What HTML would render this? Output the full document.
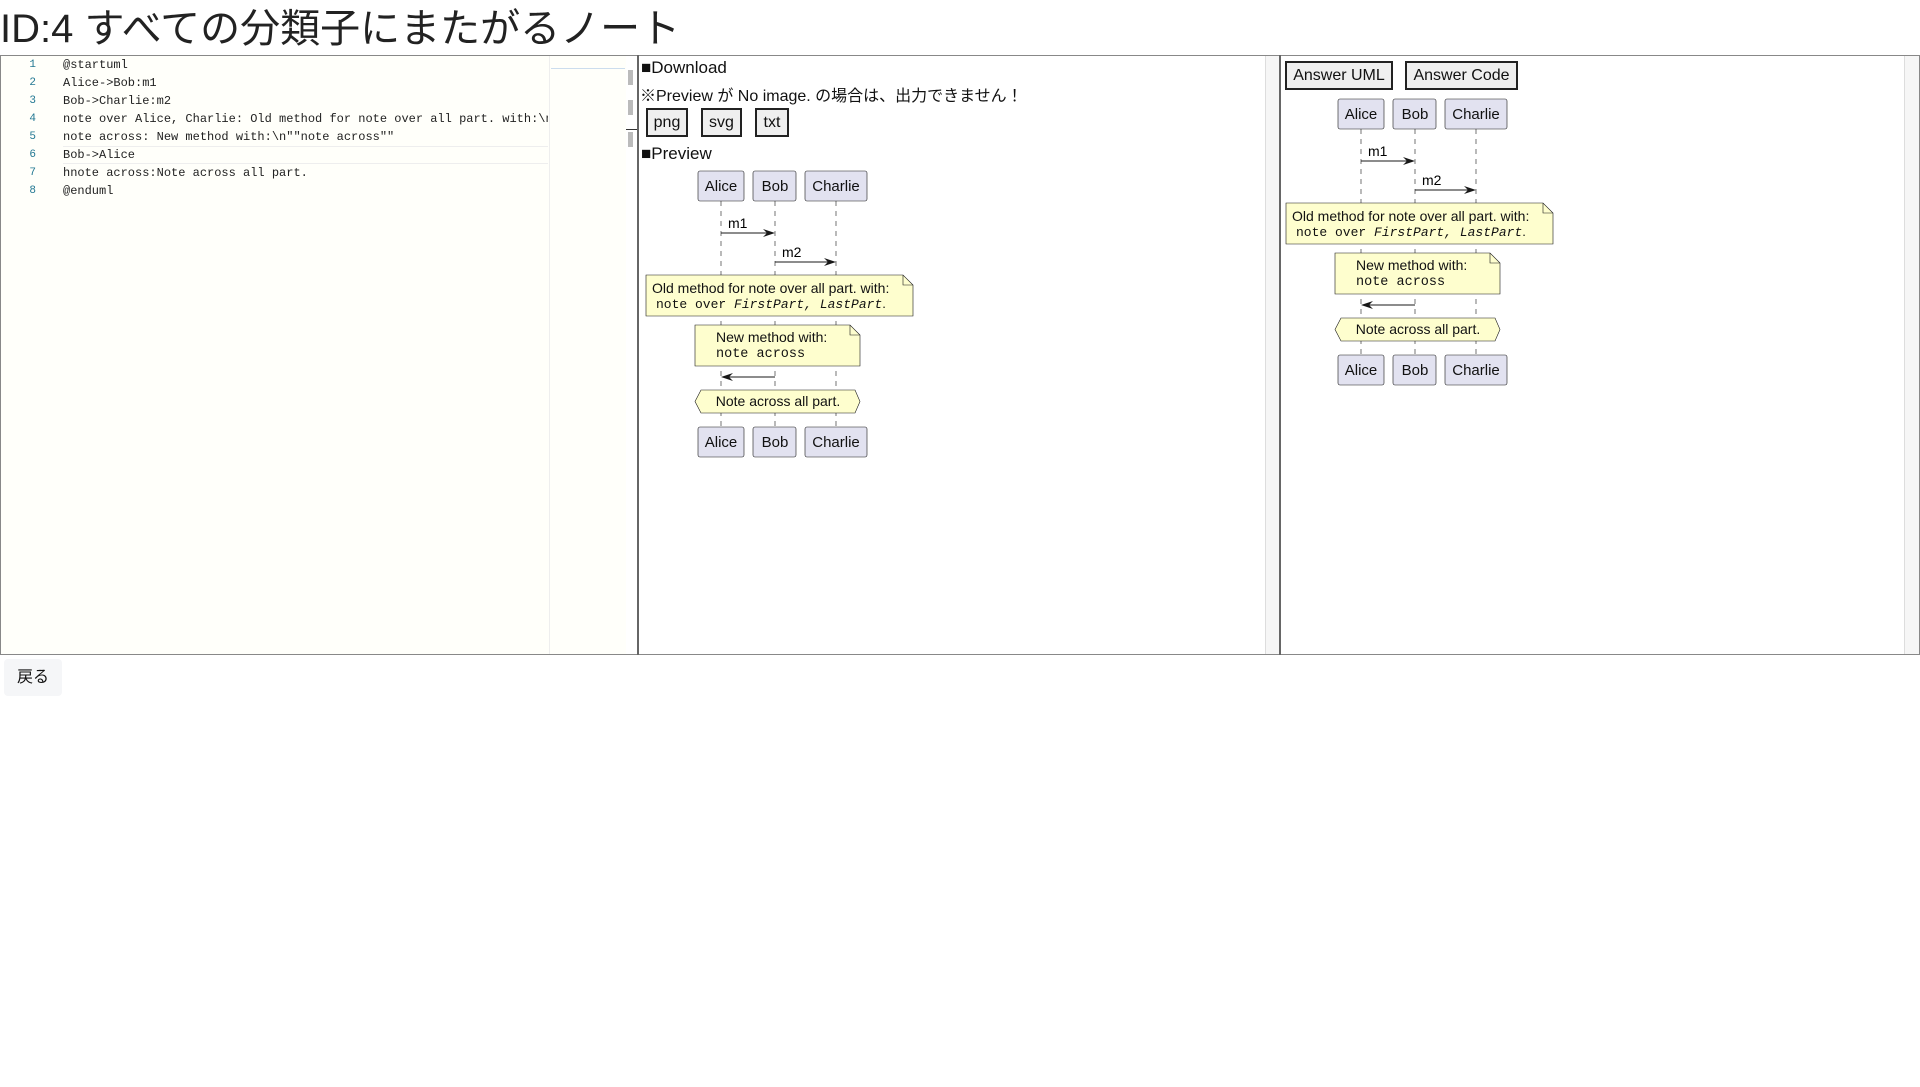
<!DOCTYPE html>
<html><head><meta charset="utf-8"><style>
*{margin:0;padding:0;box-sizing:border-box}
body{width:1920px;height:1087px;background:#fff;position:relative;overflow:hidden;font-family:"Liberation Sans","Noto Sans CJK JP",sans-serif;color:#111}
.a{position:absolute}
h1{position:absolute;left:0;top:-4px;font-size:40px;font-weight:normal;white-space:nowrap;color:#222}
.code{font-family:"Liberation Mono","DejaVu Sans Mono",monospace;font-size:12px;line-height:18px;white-space:pre;color:#222;overflow:hidden}
.ln{font-family:"Liberation Mono",monospace;font-size:11px;line-height:18px;color:#237893;text-align:right;width:36px}
.btn{position:absolute;border:2px solid #222;background:#efefef;font-size:16px;text-align:center;line-height:25px;white-space:nowrap}
.t{font-size:16px;white-space:nowrap}
</style></head><body>
<h1>ID:4 すべての分類子にまたがるノート</h1>
<div class="a" style="left:0;top:55px;width:1920px;height:600px;border:1px solid #888"></div>
<div class="a" style="left:1px;top:56px;width:548px;height:598px;background:#fffffa"></div>
<div class="a" style="left:549px;top:56px;width:77px;height:598px;background:#fffffa;border-left:1px solid #eee"></div>
<div class="a" style="left:626px;top:56px;width:13px;height:598px;background:#fff"></div>
<div class="a" style="left:628px;top:70px;width:5px;height:15px;background:#bbb"></div>
<div class="a" style="left:628px;top:100px;width:5px;height:15px;background:#bbb"></div>
<div class="a" style="left:628px;top:132px;width:5px;height:15px;background:#bbb"></div>
<div class="a" style="left:626px;top:129px;width:13px;height:1px;background:#333"></div>
<div class="a" style="left:551px;top:68px;width:74px;height:1px;background:#cde"></div>
<div class="a" style="left:637px;top:55px;width:2px;height:600px;background:#666"></div>
<div class="a" style="left:1265px;top:56px;width:14px;height:598px;background:#f6f6f6;border-left:1px solid #ddd"></div>
<div class="a" style="left:1279px;top:55px;width:2px;height:600px;background:#666"></div>
<div class="a" style="left:1904px;top:56px;width:15px;height:598px;background:#f6f6f6;border-left:1px solid #ddd"></div>
<div class="a" style="left:63px;top:146px;width:485px;height:18px;border-top:1px solid #eee;border-bottom:1px solid #eee"></div>
<div class="a ln" style="left:0;top:56px">1<br>2<br>3<br>4<br>5<br>6<br>7<br>8</div>
<div class="a code" style="left:63px;top:56px;width:485px">@startuml
Alice->Bob:m1
Bob->Charlie:m2
note over Alice, Charlie: Old method for note over all part. with:\n
note across: New method with:\n""note across""
Bob->Alice
hnote across:Note across all part.
@enduml</div>
<div class="a t" style="left:641px;top:58px;font-size:17px">■Download</div>
<div class="a t" style="left:640px;top:82px">※Preview が No image. の場合は、出力できません！</div>
<div class="btn" style="left:646px;top:108px;width:42px;height:29px">png</div>
<div class="btn" style="left:701px;top:108px;width:41px;height:29px">svg</div>
<div class="btn" style="left:755px;top:108px;width:34px;height:29px">txt</div>
<div class="a t" style="left:641px;top:144px;font-size:17px">■Preview</div>
<div class="btn" style="left:1285px;top:61px;width:108px;height:29px">Answer UML</div>
<div class="btn" style="left:1405px;top:61px;width:113px;height:29px">Answer Code</div>
<div class="a" style="left:4px;top:659px;width:58px;height:37px;background:#f5f6f8;border-radius:4px;font-size:16px;line-height:37px;text-align:center">戻る</div>

<svg class="a" style="left:0;top:0" width="1920" height="1087">
<defs>
<g id="d" font-family="Liberation Sans,sans-serif" font-size="15">
<g stroke="#181818" stroke-width="0.6" stroke-dasharray="5,5">
<line x1="721" y1="201" x2="721" y2="427"/><line x1="775" y1="201" x2="775" y2="427"/><line x1="836" y1="201" x2="836" y2="427"/>
</g>
<g fill="#e2e2f0" stroke="#181818" stroke-width="0.6">
<rect x="698" y="171" width="46" height="30" rx="2"/><rect x="753" y="171" width="43" height="30" rx="2"/><rect x="805" y="171" width="62" height="30" rx="2"/>
<rect x="698" y="427" width="46" height="30" rx="2"/><rect x="753" y="427" width="43" height="30" rx="2"/><rect x="805" y="427" width="62" height="30" rx="2"/>
</g>
<g fill="#111" text-anchor="middle">
<text x="721" y="191">Alice</text><text x="775" y="191">Bob</text><text x="836" y="191">Charlie</text>
<text x="721" y="447">Alice</text><text x="775" y="447">Bob</text><text x="836" y="447">Charlie</text>
</g>
<g stroke="#181818" stroke-width="1">
<line x1="721" y1="233" x2="773" y2="233"/><line x1="775" y1="262" x2="834" y2="262"/><line x1="723" y1="377" x2="775" y2="377"/>
</g>
<g fill="#181818">
<path d="M775 233 L763 229 L767 233 L763 237Z"/><path d="M836 262 L824 258 L828 262 L824 266Z"/><path d="M721 377 L733 373 L729 377 L733 381Z"/>
</g>
<text x="728" y="228" font-size="14">m1</text><text x="782" y="257" font-size="14">m2</text>
<g fill="#fefece" stroke="#181818" stroke-width="0.6">
<path d="M646 275 H903 L913 285 V316 H646Z"/><path d="M903 275 V285 H913" fill="none"/>
<path d="M695 325 H850 L860 335 V366 H695Z"/><path d="M850 325 V335 H860" fill="none"/>
<path d="M701 390 H855 L860 401.5 L855 413 H701 L695 401.5Z"/>
</g>
<g font-size="14" fill="#111">
<text x="652" y="293">Old method for note over all part. with:</text>
<text x="656" y="308" font-family="Liberation Mono,monospace" font-size="13">note over <tspan font-style="italic">FirstPart, LastPart</tspan><tspan font-family="Liberation Sans,sans-serif">.</tspan></text>
<text x="716" y="342">New method with:</text>
<text x="716" y="357" font-family="Liberation Mono,monospace" font-size="13.5">note across</text>
<text x="778" y="406" text-anchor="middle">Note across all part.</text>
</g>
</g>
</defs>
<use href="#d"/>
<use href="#d" transform="translate(640,-72)"/>
</svg>
</body></html>
